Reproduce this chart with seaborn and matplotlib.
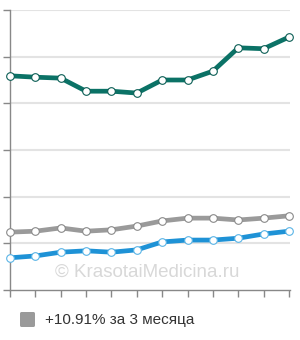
import matplotlib
matplotlib.use("Agg")
import matplotlib.pyplot as plt
import matplotlib.patches as mpatches
import pandas as pd
import seaborn as sns

# Data (12 points, y in grid units 0..6)
months = list(range(12))
teal_values = [4.59, 4.56, 4.54, 4.26, 4.26, 4.22, 4.50, 4.50, 4.69, 5.19, 5.17, 5.42]
gray_values = [1.24, 1.26, 1.33, 1.26, 1.29, 1.37, 1.48, 1.54, 1.54, 1.50, 1.54, 1.59]
blue_values = [0.69, 0.73, 0.81, 0.84, 0.81, 0.86, 1.03, 1.07, 1.07, 1.11, 1.20, 1.26]
legend_label = "+10.91% за 3 месяца"
watermark = "© KrasotaiMedicina.ru"

sns.set_style("white")
plt.rcParams['font.family'] = ['Liberation Sans', 'DejaVu Sans']

W, H = 300, 340
fig = plt.figure(figsize=(W / 100, H / 100), dpi=100)
ax = fig.add_axes([10 / W, 50 / H, 280 / W, 280 / H])

# Horizontal gridlines
for g in range(1, 7):
    ax.axhline(g, color='#e3e3e3', lw=1.5, zorder=0)

# Watermark
ax.text(5.4, 0.37, watermark, fontsize=13.5, color='#d8d8d8', ha='center', va='center', zorder=1)

series = [
    (teal_values, '#0b7266', '#0b5e55'),
    (gray_values, '#9a9a9a', '#8a8a8a'),
    (blue_values, '#1e92d6', '#5ab4e6'),
]
for vals, col, edge in series:
    df = pd.DataFrame({'x': months, 'y': vals})
    sns.lineplot(data=df, x='x', y='y', ax=ax, color=col, lw=3.4,
                 marker='o', markersize=5.5, markerfacecolor='white',
                 markeredgecolor=edge, markeredgewidth=0.8,
                 clip_on=False, zorder=3)

ax.set_xlim(0, 11.04)
ax.set_ylim(0, 6)
ax.set_xticks(months)
ax.set_yticks(range(7))
ax.set_xticklabels([])
ax.set_yticklabels([])
ax.set_xlabel('')
ax.set_ylabel('')
ax.tick_params(axis='both', direction='out', length=5, width=1, color='#888888',
               bottom=True, left=True)
for s in ['top', 'right']:
    ax.spines[s].set_visible(False)
for s in ['left', 'bottom']:
    ax.spines[s].set_color('#888888')
    ax.spines[s].set_linewidth(1)

# Legend
fig.patches.append(mpatches.FancyBboxPatch((20 / W, 1 - 327 / H), 15 / W, 15 / H,
                                           boxstyle='round,pad=0,rounding_size=0.005',
                                           transform=fig.transFigure,
                                           facecolor='#9a9a9a', edgecolor='none'))
fig.text(45 / W, 1 - 320 / H, legend_label, fontsize=11, color='#333333', va='center', ha='left')

fig.savefig('out.png', dpi=100)
